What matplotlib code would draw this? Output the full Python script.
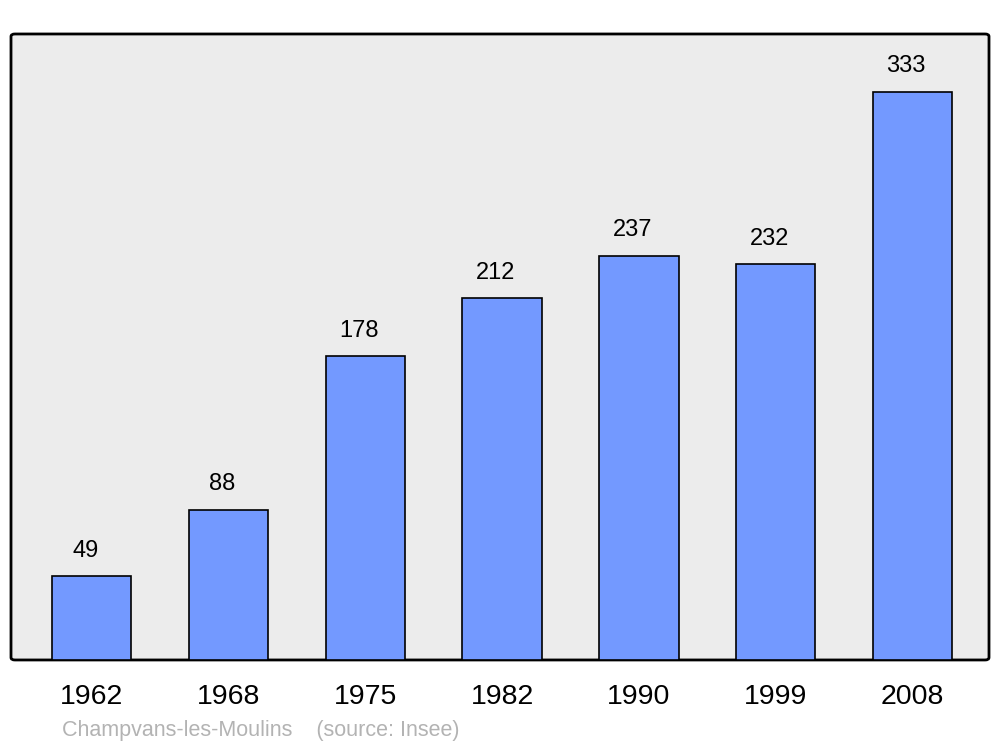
import matplotlib
matplotlib.use('Agg')
import matplotlib.pyplot as plt
from matplotlib.patches import FancyBboxPatch

plt.rcParams['font.family'] = ['Liberation Sans', 'DejaVu Sans']

# Datos
annees = ['1962', '1968', '1975', '1982', '1990', '1999', '2008']
population = [49, 88, 178, 212, 237, 232, 333]

fig = plt.figure(figsize=(10, 7.47), dpi=100)
ax = fig.add_axes([0.011, 0.1165, 0.978, 0.838])
ax.set_facecolor('none')

# Fond gris avec coins arrondis
fond = FancyBboxPatch((0, 0), 1, 1, boxstyle='round,pad=0,rounding_size=0.004',
                      transform=ax.transAxes, facecolor='#ececec', edgecolor='black',
                      linewidth=2, zorder=0, clip_on=False)
ax.add_patch(fond)

x = range(len(annees))
barres = ax.bar(x, population, width=0.58, color='#7399ff', edgecolor='black',
                linewidth=1.2, zorder=2)

for xi, val in zip(x, population):
    ax.text(xi - 0.045, val + 8.5, str(val), ha='center', va='bottom', fontsize=17)

ax.set_xlim(-0.59, 6.56)
ax.set_ylim(0, 367)
ax.set_xticks(list(x))
ax.set_xticklabels(annees, fontsize=20.5)
ax.tick_params(axis='x', length=0, pad=17)
ax.set_yticks([])
for s in ax.spines.values():
    s.set_visible(False)

fig.text(0.062, 0.008, 'Champvans-les-Moulins    (source: Insee)', fontsize=15.5,
         color='#b3b3b3', ha='left', va='bottom')

fig.savefig('out.png', dpi=100, facecolor='white')
